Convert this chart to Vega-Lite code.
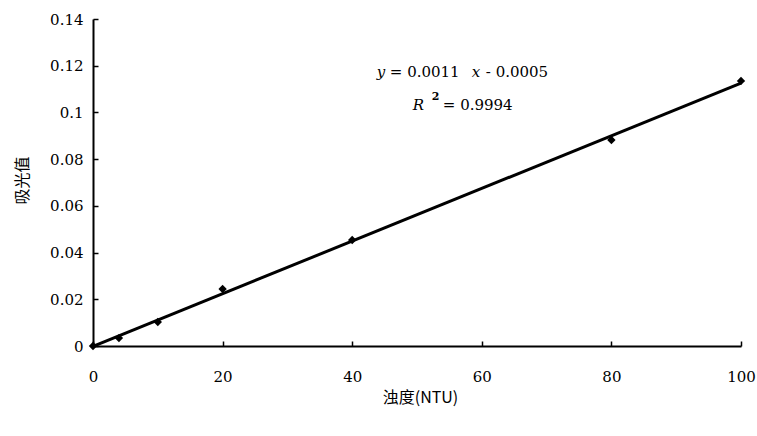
{
  "$schema": "https://vega.github.io/schema/vega-lite/v6.json",
  "width": 648,
  "height": 327,
  "autosize": "none",
  "padding": {"left": 93, "top": 19, "right": 16, "bottom": 90},
  "background": "white",
  "config": {
    "view": {"stroke": null},
    "font": "DejaVu Serif",
    "text": {"font": "DejaVu Serif", "fontSize": 15, "fontWeight": "normal", "fill": "black", "baseline": "middle", "align": "left"},
    "axis": {
      "grid": false,
      "domainColor": "black",
      "domainWidth": 2,
      "tickColor": "black",
      "tickWidth": 1.5,
      "tickSize": -5,
      "labelColor": "black",
      "labelFont": "DejaVu Serif",
      "labelFontSize": 15,
      "labelFlush": false,
      "titleColor": "black",
      "titleFont": "Noto Sans CJK SC",
      "titleFontWeight": "normal",
      "titleFontSize": 16
    }
  },
  "datasets": {
    "samples": [
      {"turbidity": 0, "absorbance": 0.0},
      {"turbidity": 4, "absorbance": 0.0034},
      {"turbidity": 10, "absorbance": 0.0103},
      {"turbidity": 20, "absorbance": 0.0244},
      {"turbidity": 40, "absorbance": 0.0454},
      {"turbidity": 80, "absorbance": 0.0882},
      {"turbidity": 100, "absorbance": 0.1135}
    ],
    "single": [{}]
  },
  "layer": [
    {
      "data": {"name": "samples"},
      "transform": [
        {"regression": "absorbance", "on": "turbidity", "method": "linear", "extent": [0, 100]}
      ],
      "mark": {"type": "line", "color": "black", "strokeWidth": 3},
      "encoding": {
        "x": {"field": "turbidity", "type": "quantitative"},
        "y": {"field": "absorbance", "type": "quantitative"}
      }
    },
    {
      "data": {"name": "samples"},
      "mark": {"type": "point", "shape": "diamond", "filled": true, "color": "black", "size": 70, "opacity": 1},
      "encoding": {
        "x": {
          "field": "turbidity",
          "type": "quantitative",
          "scale": {"domain": [0, 100], "nice": false},
          "axis": {
            "title": "浊度(NTU)",
            "values": [0, 20, 40, 60, 80, 100],
            "labelPadding": 28,
            "titleX": 327,
            "titleY": 51,
            "titleBaseline": "middle",
            "titleAlign": "center"
          }
        },
        "y": {
          "field": "absorbance",
          "type": "quantitative",
          "scale": {"domain": [0, 0.14], "nice": false},
          "axis": {
            "title": "吸光值",
            "values": [0, 0.02, 0.04, 0.06, 0.08, 0.1, 0.12, 0.14],
            "labelExpr": "datum.value === 0 ? '0' : format(datum.value, '.2~f')",
            "labelPadding": 15,
            "titleAngle": -90,
            "titleX": -71,
            "titleY": 161,
            "titleAlign": "center",
            "titleBaseline": "middle"
          }
        }
      }
    },
    {
      "data": {"name": "single"},
      "mark": {"type": "text", "fontStyle": "italic"},
      "encoding": {"x": {"datum": 43.8}, "y": {"datum": 0.1173}, "text": {"value": "y"}}
    },
    {
      "data": {"name": "single"},
      "mark": {"type": "text", "dx": 13},
      "encoding": {"x": {"datum": 43.8}, "y": {"datum": 0.1173}, "text": {"value": "= 0.0011"}}
    },
    {
      "data": {"name": "single"},
      "mark": {"type": "text", "fontStyle": "italic", "dx": 95},
      "encoding": {"x": {"datum": 43.8}, "y": {"datum": 0.1173}, "text": {"value": "x"}}
    },
    {
      "data": {"name": "single"},
      "mark": {"type": "text", "dx": 109},
      "encoding": {"x": {"datum": 43.8}, "y": {"datum": 0.1173}, "text": {"value": "- 0.0005"}}
    },
    {
      "data": {"name": "single"},
      "mark": {"type": "text", "fontStyle": "italic", "dx": 36},
      "encoding": {"x": {"datum": 43.8}, "y": {"datum": 0.1032}, "text": {"value": "R"}}
    },
    {
      "data": {"name": "single"},
      "mark": {"type": "text", "fontSize": 11, "fontWeight": "bold", "dx": 55, "dy": -8},
      "encoding": {"x": {"datum": 43.8}, "y": {"datum": 0.1032}, "text": {"value": "2"}}
    },
    {
      "data": {"name": "single"},
      "mark": {"type": "text", "dx": 66},
      "encoding": {"x": {"datum": 43.8}, "y": {"datum": 0.1032}, "text": {"value": "= 0.9994"}}
    }
  ]
}
